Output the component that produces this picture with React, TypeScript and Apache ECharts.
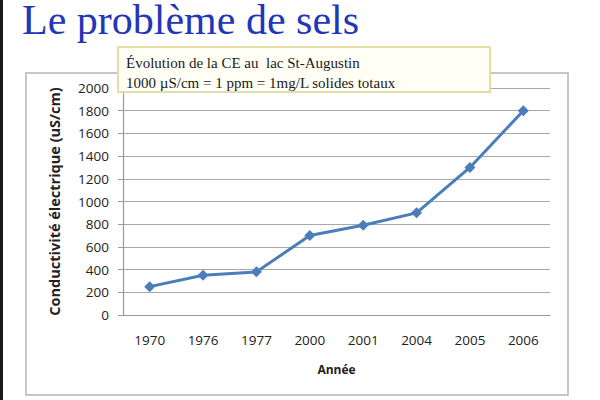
import React, { useEffect, useRef } from "react";
import * as echarts from "echarts";

const years = ["1970", "1976", "1977", "2000", "2001", "2004", "2005", "2006"];
const conductivity = [250, 350, 380, 700, 790, 900, 1300, 1800];
const slideTitle = "Le problème de sels";
const noteLines = ["Évolution de la CE au  lac St-Augustin", "1000 µS/cm = 1 ppm = 1mg/L solides totaux"];
const yAxisTitle = "Conductivité électrique (uS/cm)";
const xAxisTitle = "Année";

export default function App() {
  const ref = useRef<HTMLDivElement>(null);
  useEffect(() => {
    if (!ref.current) return;
    const chart = echarts.init(ref.current, null, { renderer: "svg" });
    const font = "'Open Sans', sans-serif";
    chart.setOption({
      animation: false,
      backgroundColor: "#ffffff",
      grid: { left: 123, right: 50, top: 88, bottom: 85 },
      xAxis: {
        type: "category",
        data: years,
        boundaryGap: true,
        name: xAxisTitle,
        nameLocation: "middle",
        nameGap: 48,
        nameTextStyle: { fontFamily: font, fontWeight: "bold", fontSize: 12, color: "#222" },
        axisLine: { lineStyle: { color: "#9a9a9a", width: 1.2 } },
        axisTick: { show: false },
        axisLabel: { fontFamily: font, fontSize: 13.5, color: "#222", margin: 18 },
      },
      yAxis: {
        type: "value",
        min: 0,
        max: 2000,
        interval: 200,
        name: yAxisTitle,
        nameLocation: "middle",
        nameGap: 61,
        nameTextStyle: { fontFamily: font, fontWeight: "bold", fontSize: 14.5, color: "#222" },
        axisLine: { show: true, lineStyle: { color: "#9a9a9a", width: 1.2 } },
        axisTick: { show: true, length: 5, lineStyle: { color: "#9a9a9a" } },
        axisLabel: {
          fontFamily: font,
          fontSize: 13.5,
          color: "#222",
          margin: 14,
          formatter: (v: number) => String(v),
        },
        splitLine: { lineStyle: { color: "#a8a8a8", width: 1.2 } },
      },
      series: [
        {
          type: "line",
          data: conductivity,
          symbol: "diamond",
          symbolSize: 11,
          lineStyle: { color: "#4a7ebb", width: 3 },
          itemStyle: { color: "#4a7ebb" },
        },
      ],
      graphic: [
        { type: "rect", z: 0, shape: { x: 0, y: 0, width: 3, height: 400 }, style: { fill: "#1a1a1a" } },
        {
          type: "rect",
          z: -1,
          silent: true,
          shape: { x: 26, y: 73, width: 542, height: 322 },
          style: { fill: "none", stroke: "#b5b5b5", lineWidth: 1.5 },
        },
        {
          type: "text",
          x: 22,
          y: 20,
          style: {
            text: slideTitle,
            fontFamily: "'Liberation Serif', serif",
            fontSize: 42,
            lineHeight: 40,
            fill: "#2236b8",
            verticalAlign: "middle",
            align: "left",
          },
        },
        {
          type: "rect",
          z: 100,
          shape: { x: 118, y: 47, width: 372, height: 45 },
          style: { fill: "#fffff6", stroke: "#e2dea6", lineWidth: 2 },
        },
        {
          type: "text",
          z: 101,
          x: 126,
          y: 63,
          style: {
            text: noteLines[0],
            fontFamily: "'Liberation Serif', serif",
            fontSize: 15,
            fill: "#1a1a1a",
            verticalAlign: "middle",
          },
        },
        {
          type: "text",
          z: 101,
          x: 126,
          y: 83,
          style: {
            text: noteLines[1],
            fontFamily: "'Liberation Serif', serif",
            fontSize: 15,
            fill: "#1a1a1a",
            verticalAlign: "middle",
          },
        },
      ],
    });
    return () => chart.dispose();
  }, []);
  return <div ref={ref} style={{ position: "fixed", left: 0, top: 0, width: 600, height: 400 }} />;
}
